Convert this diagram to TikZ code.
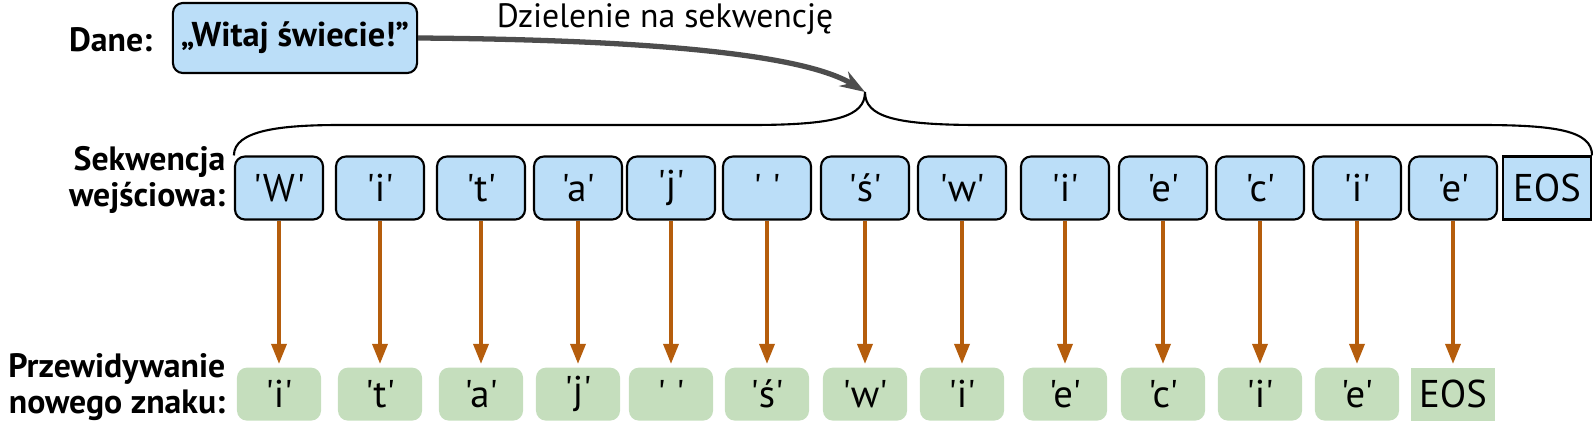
\documentclass[tikz,border=0pt]{standalone}
\usepackage{fontspec}
\setmainfont{PT Sans}[Ligatures=TeXOff]
\usetikzlibrary{arrows.meta,positioning}
\definecolor{inblue}{HTML}{BBDEF8}
\definecolor{outgreen}{HTML}{C5DEBD}
\definecolor{predarrow}{HTML}{B55D0C}
\definecolor{splitgray}{HTML}{4D4D4D}

\begin{document}
\begin{tikzpicture}[x=0.01cm, y=-0.01cm, node distance=2.06cm,
  every node/.style={font=\fontsize{11}{12}\selectfont},
  inchar/.style={draw, line width=0.6pt, fill=inblue, rounded corners=0.1cm, minimum width=0.88cm, minimum height=0.63cm, inner sep=0pt},
  outchar/.style={fill=outgreen, rounded corners=0.1cm, minimum width=0.84cm, minimum height=0.53cm, inner sep=0pt},
  rowlabel/.style={align=right, anchor=east, inner sep=0pt, font=\fontsize{9.6}{10.2}\selectfont\bfseries},
  predict/.style={-{Triangle[length=0.2cm, width=0.15cm]}, predarrow, line width=1pt, shorten >=0.03cm}]
            \useasboundingbox (0,0) rectangle (1593,427);

            % Data
            \node[rowlabel] (dane) at (153,40) {Dane:};
            \node[inchar, font=\fontsize{9.8}{12}\selectfont\bfseries, minimum width=2.44cm, minimum height=0.70cm] (data) at (295,38) {„Witaj świecie!”};
            \node[font=\fontsize{9.6}{12}\selectfont] (split) at (665,19) {Dzielenie na sekwencję};
            \coordinate (tip) at (865,92);

            % Input sequence
            \node[rowlabel] (seqlabel) at (226,180) {Sekwencja\\wejściowa:};
            \node[inchar] (w1) at (279,188) {'W'};
            \node[inchar] (w2) at (380,188) {'i'};
            \node[inchar] (w3) at (481,188) {'t'};
            \node[inchar] (w4) at (578,188) {'a'};
            \node[inchar] (w5) at (671,188) {'j'};
            \node[inchar] (w6) at (767,188) {' '};
            \node[inchar] (w7) at (865,188) {'ś'};
            \node[inchar] (w8) at (962,188) {'w'};
            \node[inchar] (w9) at (1065,188) {'i'};
            \node[inchar] (w10) at (1163,188) {'e'};
            \node[inchar] (w11) at (1260,188) {'c'};
            \node[inchar] (w12) at (1357,188) {'i'};
            \node[inchar] (w13) at (1453,188) {'e'};
            \node[inchar, sharp corners] (w14) at (1547,188) {EOS};

            % Predicted characters
            \node[rowlabel] (predlabel) at (226,387) {Przewidywanie\\nowego znaku:};
            \node[outchar] (p1) [below of=w1] {'i'};
            \node[outchar] (p2) [below of=w2] {'t'};
            \node[outchar] (p3) [below of=w3] {'a'};
            \node[outchar] (p4) [below of=w4] {'j'};
            \node[outchar] (p5) [below of=w5] {' '};
            \node[outchar] (p6) [below of=w6] {'ś'};
            \node[outchar] (p7) [below of=w7] {'w'};
            \node[outchar] (p8) [below of=w8] {'i'};
            \node[outchar] (p9) [below of=w9] {'e'};
            \node[outchar] (p10) [below of=w10] {'c'};
            \node[outchar] (p11) [below of=w11] {'i'};
            \node[outchar] (p12) [below of=w12] {'e'};
            \node[outchar, sharp corners] (p13) [below of=w13] {EOS};

            % Splitting
            \draw[splitgray, line width=1.5pt, -{Stealth[length=0.25cm, width=0.17cm]}] (data.east) .. controls (680,40) and (810,58) .. (tip);
            \draw[line width=0.6pt] (w1.north west) .. controls +(0,-25) and +(-60,0) .. (340,125) -- (750,125) .. controls +(85,0) and +(0,25) .. (tip) .. controls +(0,25) and +(-85,0) .. (980,125) -- (1480,125) .. controls +(75,0) and +(0,-25) .. (w14.north east);

            % Edges
            \draw[predict] (w1) -- (p1);
            \draw[predict] (w2) -- (p2);
            \draw[predict] (w3) -- (p3);
            \draw[predict] (w4) -- (p4);
            \draw[predict] (w5) -- (p5);
            \draw[predict] (w6) -- (p6);
            \draw[predict] (w7) -- (p7);
            \draw[predict] (w8) -- (p8);
            \draw[predict] (w9) -- (p9);
            \draw[predict] (w10) -- (p10);
            \draw[predict] (w11) -- (p11);
            \draw[predict] (w12) -- (p12);
            \draw[predict] (w13) -- (p13);
        \end{tikzpicture}
\end{document}
